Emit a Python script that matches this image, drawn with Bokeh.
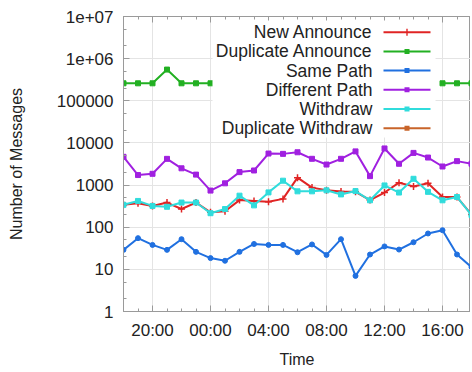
import math
from bokeh.plotting import figure
from bokeh.models import FixedTicker, LinearAxis, BoxAnnotation, Label, Range1d
from bokeh.embed import file_html
from bokeh.resources import INLINE

nan = float("nan")

# hours since 18:00 (one point per hour, 18:00 .. 18:00 next day)
hours = list(range(25))
x_tick_pos = [2, 6, 10, 14, 18, 22]
x_tick_labels = ["20:00", "00:00", "04:00", "08:00", "12:00", "16:00"]
y_ticks = [1, 10, 100, 1000, 10000, 100000, 1000000, 10000000]
y_tick_labels = ["1", "10", "100", "1000", "10000", "100000", "1e+06", "1e+07"]

new_announce = [340, 370, 320, 385, 270, 385, 225, 240, 440, 420, 400, 470, 1500, 870,
                750, 700, 690, 440, 665, 1140, 930, 1100, 520, 520, 200]
duplicate_announce = [260000, 260000, 260000, 550000, 260000, 260000, 260000] + [nan] * 15 + \
                     [260000, 260000, 260000]
same_path = [29, 55, 38, 29, 52, 26, 18.5, 16, 26, 40, 38, 38, 25.5, 39, 22, 52, 7, 22.5,
             35, 29.5, 44, 71, 85, 22.5, 11.3]
different_path = [4680, 1730, 1850, 4190, 2500, 1770, 740, 1100, 2030, 2220, 5600, 5500,
                  6000, 4200, 3070, 4200, 6300, 1630, 7400, 3200, 5800, 4500, 2760, 3700, 3200]
withdraw = [340, 420, 320, 305, 385, 385, 215, 270, 560, 330, 670, 1270, 710, 710, 750,
            600, 720, 435, 980, 665, 1410, 690, 435, 520, 195]
duplicate_withdraw = [nan] * 25

series_names = ["New Announce", "Duplicate Announce", "Same Path", "Different Path",
                "Withdraw", "Duplicate Withdraw"]
series_values = [new_announce, duplicate_announce, same_path, different_path, withdraw,
                 duplicate_withdraw]
colors = ["#e02424", "#22b022", "#2070e0", "#a020e0", "#30dcdc", "#c8642a"]
markers = ["cross", "square", "circle", "square", "square", "circle"]

FONT = "Liberation Sans"
GRID = "#e4e4e4"
AXIS = "#9a9a9a"

p = figure(width=470, height=370, y_axis_type="log",
           x_range=Range1d(0, 23.93), y_range=Range1d(1, 1e7),
           output_backend="svg", toolbar_location=None,
           min_border_left=123, min_border_right=0, min_border_top=16, min_border_bottom=57)
p.outline_line_color = AXIS
p.background_fill_color = "white"
p.border_fill_color = "white"

minor_y = [m * 10 ** k for k in range(7) for m in (2, 5)]
yt = FixedTicker(ticks=y_ticks, minor_ticks=minor_y)
xt = FixedTicker(ticks=x_tick_pos, minor_ticks=hours)

p.yaxis.ticker = yt
p.yaxis.major_label_overrides = {v: l for v, l in zip(y_ticks, y_tick_labels)}
p.xaxis.ticker = xt
p.xaxis.major_label_overrides = {v: l for v, l in zip(x_tick_pos, x_tick_labels)}

for ax in (p.xaxis[0], p.yaxis[0]):
    ax.axis_line_color = AXIS
    ax.major_tick_line_color = AXIS
    ax.minor_tick_line_color = AXIS
    ax.major_tick_in = 6
    ax.major_tick_out = 0
    ax.minor_tick_in = 3
    ax.minor_tick_out = 0
    ax.major_label_text_font = FONT
    ax.major_label_text_font_size = "17px"
    ax.major_label_text_color = "#222222"
    ax.axis_label_text_font = FONT
    ax.axis_label_text_font_size = "16px"
    ax.axis_label_text_font_style = "normal"
    ax.axis_label_text_color = "#222222"

p.xaxis.axis_label = "Time"
p.yaxis.axis_label = "Number of Messages"
p.xaxis.major_label_standoff = 9
p.xaxis.axis_label_standoff = 8
p.yaxis.major_label_standoff = 10
p.yaxis.axis_label_standoff = 29

# mirrored tick marks on the top edge (no labels: only minor ticks are given)
for tick_list, ln in ((hours, 3), (x_tick_pos, 6)):
    top = LinearAxis(ticker=FixedTicker(ticks=[], minor_ticks=tick_list),
                     major_label_standoff=0, axis_line_color=AXIS,
                     minor_tick_line_color=AXIS, minor_tick_in=ln, minor_tick_out=0,
                     major_tick_in=0, major_tick_out=0)
    p.add_layout(top, "above")

p.ygrid.ticker = yt
p.xgrid.ticker = FixedTicker(ticks=x_tick_pos)
p.xgrid.grid_line_color = GRID
p.ygrid.grid_line_color = GRID

for vals, col, mk in zip(series_values, colors, markers):
    p.line(hours, vals, line_color=col, line_width=2)
    if mk == "cross":
        p.scatter(hours, vals, marker="cross", size=7, line_color=col, line_width=1.5)
    else:
        p.scatter(hours, vals, marker=mk, size=5, fill_color=col, line_color=col)

# legend drawn in canvas units (white opaque box, right-aligned text, sample on the right)
p.add_layout(BoxAnnotation(left=212, right=435, top=20, bottom=137,
                           left_units="canvas", right_units="canvas",
                           top_units="canvas", bottom_units="canvas",
                           fill_color="white", fill_alpha=1, line_color=None, level="overlay"))
row0, dy = 31.7, 19.2
for i, (name, col, mk) in enumerate(zip(series_names, colors, markers)):
    cy = row0 + i * dy
    p.add_layout(Label(x=372, y=cy, x_units="canvas", y_units="canvas", text=name,
                       text_align="right", text_baseline="middle", text_font=FONT,
                       text_font_size="17.5px", text_color="#222222", level="overlay"))
    p.add_layout(BoxAnnotation(left=383, right=430, top=cy - 1, bottom=cy + 1,
                               left_units="canvas", right_units="canvas",
                               top_units="canvas", bottom_units="canvas",
                               fill_color=col, fill_alpha=1, line_color=None, level="overlay"))
    if mk == "cross":
        t, b, l, r = cy - 3.5, cy + 3.5, 405.8, 407.2
    else:
        t, b, l, r = cy - 2.5, cy + 2.5, 404, 409
    p.add_layout(BoxAnnotation(left=l, right=r, top=t, bottom=b,
                               left_units="canvas", right_units="canvas",
                               top_units="canvas", bottom_units="canvas",
                               fill_color=col, fill_alpha=1, line_color=None, level="overlay"))

open("out.html", "w").write(file_html(p, INLINE))
